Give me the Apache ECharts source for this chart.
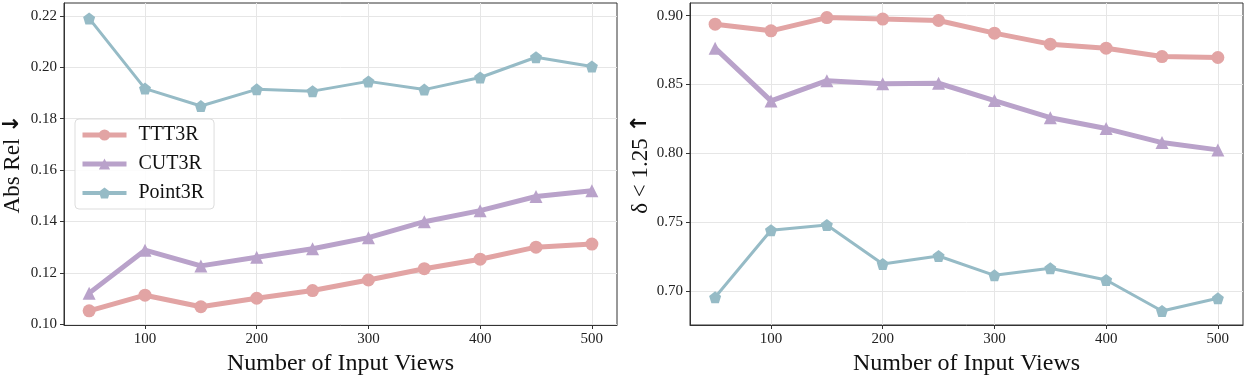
<!DOCTYPE html>
<html>
<head>
<meta charset="utf-8">
<script src="https://cdn.jsdelivr.net/npm/echarts@6/dist/echarts.min.js"></script>
<style>
  html, body { margin: 0; padding: 0; background: #fff; }
  #chart { width: 1246px; height: 377px; }
</style>
</head>
<body>
<div id="chart"></div>
<script>
var views = [50, 100, 150, 200, 250, 300, 350, 400, 450, 500];
var xTicks = [100, 200, 300, 400, 500];

// Abs Rel (lower is better)
var absTTT3R = [0.1052, 0.1113, 0.1068, 0.1101, 0.1131, 0.1172, 0.1216, 0.1253, 0.1300, 0.1312];
var absCUT3R = [0.1121, 0.1288, 0.1227, 0.1261, 0.1294, 0.1337, 0.1399, 0.1442, 0.1497, 0.1519];
var absPoint3R = [0.2190, 0.1917, 0.1849, 0.1914, 0.1907, 0.1945, 0.1913, 0.1960, 0.2039, 0.2003];
var absTicks = [0.10, 0.12, 0.14, 0.16, 0.18, 0.20, 0.22];

// delta < 1.25 (higher is better)
var dTTT3R = [0.8938, 0.8890, 0.8986, 0.8975, 0.8965, 0.8873, 0.8793, 0.8764, 0.8703, 0.8696];
var dCUT3R = [0.8764, 0.8381, 0.8528, 0.8506, 0.8509, 0.8383, 0.8259, 0.8180, 0.8078, 0.8025];
var dPoint3R = [0.6954, 0.7441, 0.7480, 0.7196, 0.7254, 0.7114, 0.7165, 0.7080, 0.6855, 0.6947];
var dTicks = [0.70, 0.75, 0.80, 0.85, 0.90];

var colors = { TTT3R: '#e2a4a4', CUT3R: '#b9a2ca', Point3R: '#96bbc6' };
var pentagon = 'path://M0,-1 L0.951,-0.309 L0.588,0.809 L-0.588,0.809 L-0.951,-0.309 Z';
var serif = '"Liberation Serif", "DejaVu Serif", serif';

function pairs(ys) {
    return views.map(function (x, i) { return [x, ys[i]]; });
}

function xAxisFor(gridIndex) {
    return {
        type: 'value', gridIndex: gridIndex, min: 27.5, max: 522.5,
        name: 'Number of Input Views', nameLocation: 'middle', nameGap: 22,
        nameTextStyle: { fontFamily: serif, fontSize: 24, color: '#111' },
        axisLine: { show: true, lineStyle: { color: '#333', width: 1 } },
        axisTick: { show: true, length: 4, customValues: xTicks, lineStyle: { color: '#333' } },
        axisLabel: { customValues: xTicks, fontFamily: serif, fontSize: 15, color: '#222', margin: 7 },
        splitLine: { show: true, lineStyle: { color: '#e6e6e6', width: 1 } }
    };
}

function yAxisFor(gridIndex, min, max, ticks, name, arrow, gap) {
    return {
        type: 'value', gridIndex: gridIndex, min: min, max: max,
        name: name + ' {a|' + arrow + '}', nameLocation: 'middle', nameGap: gap, nameRotate: 90,
        nameTextStyle: {
            fontFamily: serif, fontSize: 23, color: '#111',
            rich: { a: { fontFamily: '"DejaVu Sans", sans-serif', fontWeight: 'bold', fontSize: 22, color: '#111' } }
        },
        axisLine: { show: true, lineStyle: { color: '#333', width: 1 } },
        axisTick: { show: true, length: 4, customValues: ticks, lineStyle: { color: '#333' } },
        axisLabel: {
            customValues: ticks, fontFamily: serif, fontSize: 15, color: '#222', margin: 7,
            formatter: function (v) { return v.toFixed(2); }
        },
        splitLine: { show: true, lineStyle: { color: '#e6e6e6', width: 1 } }
    };
}

function line(name, data, idx, symbol, size, width) {
    return {
        name: name, type: 'line', xAxisIndex: idx, yAxisIndex: idx,
        data: pairs(data), symbol: symbol, symbolSize: size, showSymbol: true,
        lineStyle: { color: colors[name], width: width },
        itemStyle: { color: colors[name] },
        emphasis: { disabled: true },
        z: 3
    };
}

var chart = echarts.init(document.getElementById('chart'), null, { renderer: 'canvas' });
var option = {
    animation: false,
    backgroundColor: '#fff',
    color: [colors.TTT3R, colors.CUT3R, colors.Point3R],
    grid: [
        { left: 64, right: 629, top: 3, bottom: 52, show: true, borderColor: '#333', borderWidth: 1,
          backgroundColor: 'transparent', outerBoundsMode: 'none', containLabel: false },
        { left: 690, right: 3, top: 3, bottom: 52, show: true, borderColor: '#333', borderWidth: 1,
          backgroundColor: 'transparent', outerBoundsMode: 'none', containLabel: false }
    ],
    legend: {
        data: [
            { name: 'TTT3R', lineStyle: { width: 5 } },
            { name: 'CUT3R', lineStyle: { width: 5 } },
            { name: 'Point3R', lineStyle: { width: 4 } }
        ],
        orient: 'vertical', left: 75, top: 119,
        padding: [6, 10, 6, 5], itemGap: 9,
        itemWidth: 44, itemHeight: 14,
        borderColor: '#dddddd', borderWidth: 1, borderRadius: 4,
        backgroundColor: 'rgba(255,255,255,0.85)',
        textStyle: { fontFamily: serif, fontSize: 20, color: '#111', lineHeight: 20, padding: [0, 0, 0, 7] }
    },
    xAxis: [xAxisFor(0), xAxisFor(1)],
    yAxis: [
        yAxisFor(0, 0.0997, 0.2250, absTicks, 'Abs Rel', '\u2193', 40),
        yAxisFor(1, 0.6753, 0.9092, dTicks, '\u03b4 < 1.25', '\u2191', 38)
    ],
    series: [
        line('TTT3R', absTTT3R, 0, 'circle', 13, 5),
        line('CUT3R', absCUT3R, 0, 'triangle', 13, 5),
        line('Point3R', absPoint3R, 0, pentagon, 12, 3),
        line('TTT3R', dTTT3R, 1, 'circle', 13, 5),
        line('CUT3R', dCUT3R, 1, 'triangle', 13, 5),
        line('Point3R', dPoint3R, 1, pentagon, 12, 3)
    ]
};
chart.setOption(option);
</script>
</body>
</html>
